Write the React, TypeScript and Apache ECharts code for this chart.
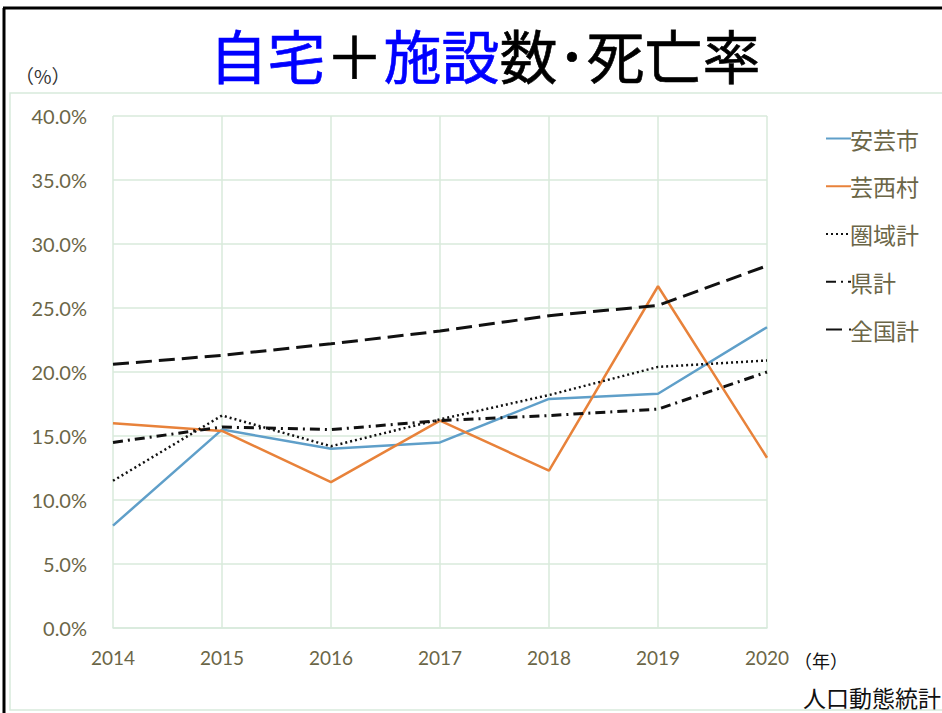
import React, { useEffect, useRef } from "react";
import * as echarts from "echarts";

const years = ["2014", "2015", "2016", "2017", "2018", "2019", "2020"];
const akiCity = [8.0, 15.5, 14.0, 14.5, 17.9, 18.3, 23.5];
const geiseiVillage = [16.0, 15.4, 11.4, 16.2, 12.3, 26.7, 13.3];
const areaTotal = [11.5, 16.6, 14.2, 16.3, 18.2, 20.4, 20.9];
const prefTotal = [14.5, 15.7, 15.5, 16.2, 16.6, 17.1, 20.0];
const nationTotal = [20.6, 21.3, 22.2, 23.2, 24.4, 25.2, 28.3];

const labelColor = "#6b6647";
const gridColor = "#d8eadb";

export default function App() {
  const ref = useRef<HTMLDivElement>(null);
  useEffect(() => {
    if (!ref.current) return;
    const chart = echarts.init(ref.current, undefined, { renderer: "svg" });
    const mk = (name: string, data: number[], color: string, width: number, type: any) => ({
      name,
      type: "line",
      data,
      symbol: "none",
      showSymbol: false,
      lineStyle: { color, width, type },
      itemStyle: { color },
    });
    chart.setOption({
      animation: false,
      backgroundColor: "#ffffff",
      grid: { left: 113, right: 175, top: 116, bottom: 85, containLabel: false },
      legend: {
        orient: "vertical",
        left: 820,
        top: 122,
        itemGap: 24.75,
        itemWidth: 25,
        itemHeight: 24,
        itemStyle: { opacity: 0 },
        textStyle: { fontSize: 23, color: labelColor, fontFamily: "Noto Sans CJK JP", padding: [0, 0, 0, -6] },
        data: ["安芸市", "芸西村", "圏域計", "県計", "全国計"],
      },
      xAxis: {
        type: "category",
        data: years,
        boundaryGap: false,
        axisLine: { show: true, lineStyle: { color: gridColor, width: 1.5 } },
        axisTick: { show: false },
        axisLabel: { margin: 20, fontSize: 19, color: labelColor, fontFamily: "Lato" },
        splitLine: { show: true, lineStyle: { color: gridColor, width: 1.5 } },
      },
      yAxis: {
        type: "value",
        min: 0,
        max: 40,
        interval: 5,
        axisLine: { show: false },
        axisTick: { show: false },
        axisLabel: {
          margin: 26,
          fontSize: 20,
          color: labelColor,
          fontFamily: "Lato",
          formatter: (v: number) => v.toFixed(1) + "%",
        },
        splitLine: { show: true, lineStyle: { color: gridColor, width: 1.5 } },
      },
      series: [
        mk("安芸市", akiCity, "#5f9fc9", 2.5, "solid"),
        mk("芸西村", geiseiVillage, "#e8823a", 2.5, "solid"),
        mk("圏域計", areaTotal, "#111111", 2.5, [2, 3]),
        mk("県計", prefTotal, "#111111", 3, [10, 5, 2, 5]),
        mk("全国計", nationTotal, "#111111", 3, [16, 7]),
      ],
      graphic: [
        { type: "rect", shape: { x: 10, y: 93, width: 940, height: 617 }, style: { fill: "none", stroke: gridColor, lineWidth: 1.5 }, z: -1 },
        { type: "line", shape: { x1: 4, y1: 8, x2: 4, y2: 713 }, style: { stroke: "#000", lineWidth: 3 } },
        { type: "line", shape: { x1: 3, y1: 8, x2: 942, y2: 8 }, style: { stroke: "#000", lineWidth: 3 } },
        {
          type: "text",
          x: 485,
          y: 54,
          style: {
            text: "{b|自宅}{k|＋}{b|施設}{k|数･死亡率}",
            align: "center",
            verticalAlign: "middle",
            rich: {
              b: { fontSize: 58, fill: "#0000ff", fontFamily: "Noto Sans CJK JP", fontWeight: "normal", stroke: "#0000ff", lineWidth: 0.6 },
              k: { fontSize: 58, fill: "#000000", fontFamily: "Noto Sans CJK JP", fontWeight: "normal", stroke: "#000000", lineWidth: 0.6 },
            },
          },
        },
        { type: "text", x: 15, y: 75, style: { text: "（%）", fontSize: 19, fill: "#333", fontFamily: "Noto Sans CJK JP", verticalAlign: "middle" } },
        { type: "text", x: 794, y: 660, style: { text: "（年）", fontSize: 18, fill: "#111", fontFamily: "Noto Sans CJK JP", verticalAlign: "middle" } },
        { type: "text", x: 941, y: 697, style: { text: "人口動態統計", fontSize: 23, fill: "#111", fontFamily: "Noto Sans CJK JP", align: "right", verticalAlign: "middle" } },
      ],
    });
    return () => chart.dispose();
  }, []);
  return <div ref={ref} style={{ position: "absolute", left: 0, top: 0, width: 942, height: 713 }} />;
}
